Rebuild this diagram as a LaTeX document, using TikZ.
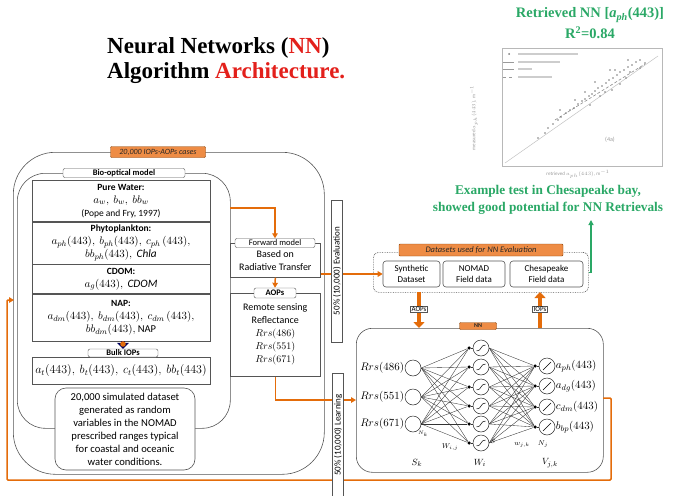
\documentclass[tikz,border=0pt]{standalone}
\usepackage{fontspec}
\setmainfont{Carlito}
\newfontfamily\tnr{Liberation Serif}
\usetikzlibrary{arrows.meta,calc}
\definecolor{org}{HTML}{E46C0A}
\definecolor{orgfill}{HTML}{EE8C45}
\definecolor{grn}{HTML}{2AA866}
\definecolor{bd}{HTML}{555555}
\definecolor{ttlred}{HTML}{E3201B}
\definecolor{pg}{HTML}{9A9A9A}
\newcommand{\mth}[1]{{\fontsize{11.3}{13}\selectfont$#1$}}
\begin{document}
\begin{tikzpicture}[x=1pt,y=-1pt,
  frame/.style={draw=bd,line width=0.6pt},
  hdr/.style={draw=org!60!black,fill=orgfill,rounded corners=1pt,inner sep=0pt,font=\fontsize{8}{9}\selectfont\itshape,text=black!85},
  lbl/.style={draw=bd,fill=white,rounded corners=2pt,inner sep=0pt,font=\fontsize{8.5}{9}\selectfont\bfseries},
  sec/.style={frame,minimum width=178pt,align=center,font=\fontsize{9.5}{13}\selectfont,inner sep=0pt,anchor=north},
  txt/.style={align=center,font=\fontsize{10}{13}\selectfont},
  oline/.style={draw=org,line width=1.5pt},
  oarr/.style={oline,-{Triangle[length=5pt,width=5.5pt]}},
  fat/.style={draw=org,line width=4.5pt,-{Triangle[length=6pt,width=11pt]}},
  neuron/.style={circle,draw=black!85,line width=0.5pt,minimum size=16pt,inner sep=0pt},
  dot/.style={circle,fill=black,inner sep=0pt,minimum size=3.5pt},
  conn/.style={draw=black!80,line width=0.35pt},
  nnlab/.style={font=\fontsize{11}{12}\selectfont,inner sep=0.5pt},
  sublab/.style={font=\fontsize{8.5}{9}\selectfont,inner sep=1pt},
  vlab/.style={frame,fill=white,rotate=90,minimum height=11pt,inner sep=0pt,font=\fontsize{9}{10}\selectfont},
  tiny/.style={font=\fontsize{5}{6}\selectfont,text=pg,inner sep=0pt}
]
\useasboundingbox (0,0) rectangle (674,495);

% ---------- title ----------
\node[anchor=base west,inner sep=0,font=\tnr\bfseries\fontsize{23}{26}\selectfont] (t1) at (107,53) {Neural Networks (\textcolor{ttlred}{NN})};
\node[anchor=base west,inner sep=0,font=\tnr\bfseries\fontsize{23}{26}\selectfont] (t2) at (107,78) {Algorithm \textcolor{ttlred}{Architecture.}};

% ---------- plot ----------
\node[font=\tnr\bfseries\fontsize{14.5}{16}\selectfont,text=grn,inner sep=0] (rt1) at (590,15) {Retrieved NN [\textit{a}\textsubscript{\textit{ph}}(443)]};
\node[font=\tnr\bfseries\fontsize{14.5}{16}\selectfont,text=grn,inner sep=0] (rt2) at (590,33) {R\textsuperscript{2}=0.84};
\node[draw=pg!70,line width=0.4pt,minimum width=160pt,minimum height=118pt,anchor=north west] (plot) at (502,48) {};
\draw[pg!60,line width=0.5pt] (505,163) -- (658,56);
\draw[pg!90!black,densely dashed,line width=0.6pt] (555,120) -- (645,64);
\foreach \p in {(548,128),(553,124),(558,120),(561,117),(566,113),(570,110),(574,108),(578,104),(582,101),(585,99),(589,96),(592,94),(595,91),(598,88),(602,86),(606,83),(609,80),(613,78),(617,75),(620,72),(624,70),(628,67),(632,65),(636,62),(640,60),(600,96),(612,90),(620,84),(626,78),(615,70),(630,72),(595,82),(585,92),(605,92),(575,100),(640,68),(645,63),(610,70),(628,60),(560,110),(545,133),(538,138),(590,105)}
  \fill[pg!80!black] \p circle (0.8pt);
\fill[pg!80!black] (509,54) circle (1pt);
\draw[pg] (503,62) -- (514,62);
\draw[pg] (503,69) -- (514,69);
\draw[pg,dashed] (503,77) -- (514,77);
\draw[pg!50,line width=1.3pt] (518,54) -- (578,54);
\draw[pg!50,line width=1.3pt] (518,62) -- (560,62);
\draw[pg!50,line width=1.3pt] (518,69) -- (532,69);
\draw[pg!50,line width=1.3pt] (518,77) -- (552,77);
\node[tiny,rotate=90] (ylab) at (474,118) {measured $a_{ph}(443)$, m$^{-1}$};
\node[tiny] (xlab) at (578,174) {retrieved $a_{ph}(443)$, m$^{-1}$};
\node[tiny,font=\fontsize{6}{7}\selectfont] (fig) at (610,140) {(4a)};

% ---------- green note ----------
\node[font=\tnr\bfseries\fontsize{13.3}{17}\selectfont,text=grn,align=center,inner sep=0] (ex) at (548,200) {Example test in Chesapeake bay,\\showed good potential for NN Retrievals};

% ---------- left big box ----------
\node[frame,rounded corners=42pt,minimum width=311pt,minimum height=322pt,anchor=north west] (outer) at (13,152) {};
\node[frame,rounded corners=28pt,minimum width=213pt,minimum height=255pt,anchor=north west] (bio) at (17,173) {};
\node[hdr,minimum width=95pt,minimum height=11pt] (cases) at (158,152) {20,000 IOPs-AOPs cases};
\node[lbl,minimum width=122pt,minimum height=9pt] (biol) at (124,173) {Bio-optical model};

\node[sec,minimum height=41pt] (pw) at (121,180) {\textbf{Pure Water:}\\\mth{a_w,\ b_w,\ bb_w}\\(Pope and Fry, 1997)};
\node[sec,minimum height=42pt] (ph) at (pw.south) {\textbf{Phytoplankton:}\\\mth{a_{ph}(443),\ b_{ph}(443),\ c_{ph}\,(443),}\\\mth{bb_{ph}(443),\ \mathit{Chla}}};
\node[sec,minimum height=29pt] (cd) at (ph.south) {\textbf{CDOM:}\\\mth{a_g(443),\ \mathit{CDOM}}};
\node[sec,minimum height=47pt] (nap) at (cd.south) {\textbf{NAP:}\\\mth{a_{dm}(443),\ b_{dm}(443),\ c_{dm}\,(443),}\\\mth{bb_{dm}(443),}\ {\fontsize{10.5}{13}\selectfont NAP}};

\node[sec,minimum height=27pt] (bulk) at (121,357) {{\fontsize{11.8}{13}\selectfont$a_t(443),\ b_t(443),\ c_t(443),\ bb_t(443)$}};
\node[lbl,minimum width=70pt,minimum height=8pt] (bulkl) at (123,353) {Bulk IOPs};
\draw[-{Triangle[length=6pt,width=12pt]},line width=4pt,draw=blue!35!black] (nap.south -| bulkl) -- (bulkl.north);
\fill[org] ($(nap.south -| bulkl)!0.35!(bulkl.north)$) circle (2.8pt);

\node[frame,fill=white,rounded corners=11pt,minimum width=140pt,minimum height=82pt,align=center,font=\fontsize{10.6}{13}\selectfont] (sim) at (125,429) {20,000 simulated dataset\\generated as random\\variables in the NOMAD\\prescribed ranges typical\\for coastal and oceanic\\water conditions.};

% ---------- forward model / AOPs ----------
\node[frame,minimum width=90pt,minimum height=34pt,txt,anchor=north west] (fwd) at (230,243) {Based on\\Radiative Transfer};
\node[lbl,font=\fontsize{8.5}{9}\selectfont,minimum width=80pt,minimum height=9pt] (fwdl) at (275,243) {Forward model};
\node[frame,minimum width=90pt,minimum height=83pt,txt,anchor=north west] (aops) at (230,293) {Remote sensing\\Reflectance\\$Rrs(486)$\\$Rrs(551)$\\$Rrs(671)$};
\node[lbl,minimum width=42pt,minimum height=10pt] (aopsl) at (275,293) {AOPs};

% ---------- datasets ----------
\node[draw=bd,densely dotted,line width=0.7pt,rounded corners=5pt,minimum width=215pt,minimum height=40pt,anchor=north west] (ds) at (373,252) {};
\node[hdr,font=\fontsize{8.5}{9}\selectfont\itshape,minimum width=164pt,minimum height=12pt] (dsh) at (481,250) {Datasets used for NN Evaluation};
\node[frame,rounded corners=3pt,minimum width=57pt,minimum height=26pt,align=center,font=\fontsize{9}{11}\selectfont] (syn) at (411.5,274) {Synthetic\\Dataset};
\node[frame,rounded corners=3pt,minimum width=62pt,minimum height=26pt,align=center,font=\fontsize{9}{11}\selectfont] (nomad) at (474,274) {NOMAD\\Field data};
\node[frame,rounded corners=3pt,minimum width=73pt,minimum height=26pt,align=center,font=\fontsize{9}{11}\selectfont] (ches) at (546.5,274) {Chesapeake\\Field data};

\coordinate (g1) at (591,220);
\draw[grn,line width=1.2pt,-{Triangle[length=5pt,width=5pt]}] (ds.east) -| (g1);

% ---------- NN ----------
\node[frame,rounded corners=16pt,minimum width=247pt,minimum height=144pt,anchor=north west] (nnb) at (356,328) {};
\node[hdr,font=\fontsize{6}{6}\selectfont\bfseries,minimum width=37pt,minimum height=7pt] (nnh) at (478,326) {NN};

\foreach \y [count=\i] in {368,397,424} \node[neuron] (in\i) at (413,\y) {};
\foreach \y [count=\i] in {348,367,387,406,424,443} {\node[neuron] (h\i) at (481,\y) {}; \node[dot] (hd\i) at (469,\y) {};}
\foreach \y [count=\i] in {366,386,407,427} {\node[neuron] (o\i) at (547,\y) {}; \node[dot] (od\i) at (535,\y) {};}

\foreach \i in {1,2,3} \foreach \j in {1,...,6} \draw[conn] (in\i.east) -- (hd\j);
\foreach \j in {1,...,6} {\draw[conn] (hd\j) -- (h\j.west); \foreach \k in {1,...,4} \draw[conn] (h\j.east) -- (od\k);}
\foreach \k in {1,...,4} \draw[conn] (od\k) -- (o\k.west);
\foreach \j in {1,...,6} \draw[line width=0.5pt] ($(h\j)+(-4.5,3)$) .. controls ($(h\j)+(1,3)$) and ($(h\j)+(-1,-3)$) .. ($(h\j)+(4.5,-3)$);
\foreach \k in {1,...,4} \draw[line width=0.5pt] ($(o\k)+(-4,4)$) -- ($(o\k)+(4,-4)$);

\node[nnlab,anchor=east] (il1) at (in1.west) {$Rrs(486)$};
\node[nnlab,anchor=east] (il2) at (in2.west) {$Rrs(551)$};
\node[nnlab,anchor=east] (il3) at (in3.west) {$Rrs(671)$};
\node[nnlab,anchor=west] (ol1) at (o1.east) {$a_{ph}(443)$};
\node[nnlab,anchor=west] (ol2) at (o2.east) {$a_{dg}(443)$};
\node[nnlab,anchor=west] (ol3) at (o3.east) {$c_{dm}(443)$};
\node[nnlab,anchor=west] (ol4) at (o4.east) {$b_{bp}(443)$};

\node[sublab,font=\fontsize{9.5}{10}\selectfont] (sk) at (417,463) {$S_k$};
\node[sublab,font=\fontsize{7}{8}\selectfont] (wij) at (450,447) {$W_{i,j}$};
\node[sublab,font=\fontsize{6.5}{7}\selectfont] (ss) at (493,441) {$S$};
\node[sublab,font=\fontsize{9.5}{10}\selectfont] (wi) at (480,463) {$W_i$};
\node[sublab,font=\fontsize{7}{8}\selectfont] (wjk) at (522,445) {$w_{j,k}$};
\node[sublab,font=\fontsize{7}{8}\selectfont] (nj) at (543,444) {$N_j$};
\node[sublab,font=\fontsize{9.5}{10}\selectfont] (vjk) at (550,463) {$V_{j,k}$};
\node[sublab,font=\fontsize{5.5}{6}\selectfont] (nk) at (423,434) {$N_k$};

% ---------- orange connectors ----------
\coordinate (b1) at (230,208);
\draw[oarr] (b1) -| (fwdl.north);
\draw[oarr] (fwd.south) -- (aopsl.north);
\coordinate (nnin) at (356,400);
\draw[oarr] (aops.south) |- (nnin);
\draw[oarr] (fwd.east |- syn.west) -- (syn.west);
\coordinate (f0) at (603,398);
\coordinate (f1) at (611,398);
\coordinate (f2) at (611,480);
\coordinate (f3) at (7,480);
\coordinate (f4) at (7,300);
\coordinate (f5) at (14,300);
\draw[oarr,rounded corners=1pt] (f0) -- (f1) -- (f2) -- (f3) -- (f4) -- (f5);

\coordinate (a1) at (419,292);
\coordinate (a2) at (419,328);
\draw[fat] (a1) -- (a2);
\coordinate (c1) at (540,328);
\coordinate (c2) at (540,292);
\draw[fat] (c1) -- (c2);
\node[draw=bd,fill=white,inner sep=1pt,font=\fontsize{7}{8}\selectfont] (aopt) at (419,309) {AOPs};
\node[draw=bd,fill=white,inner sep=1pt,font=\fontsize{7}{8}\selectfont] (iopt) at (540,309) {IOPs};

\node[vlab,minimum width=142pt] (eval) at (337,271) {50\% (10,000) Evaluation};
\node[vlab,minimum width=124pt] (learn) at (338,435) {50\% (10,000) Learning};
\end{tikzpicture}
\end{document}
